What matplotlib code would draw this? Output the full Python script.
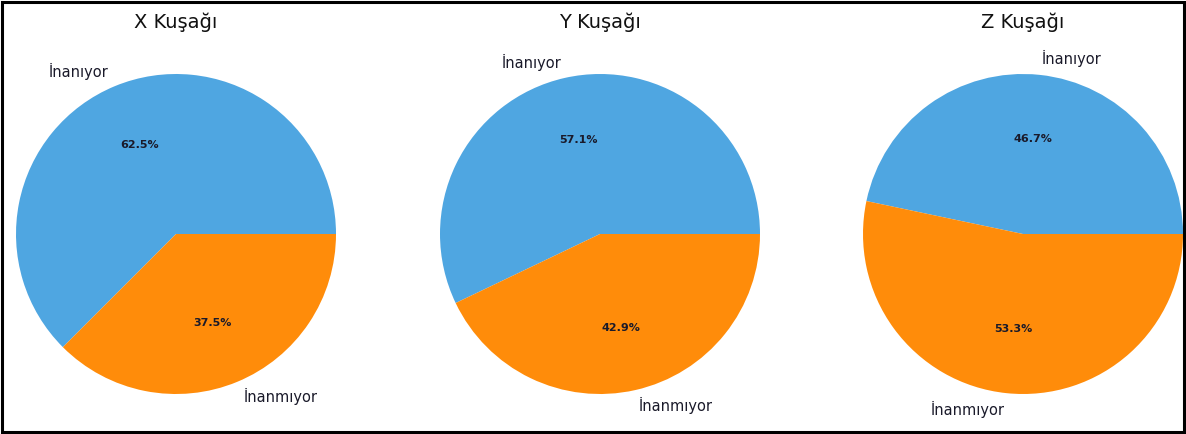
import matplotlib
matplotlib.use("Agg")
import matplotlib.pyplot as plt
from matplotlib.patches import Rectangle

groups = ["X Kuşağı", "Y Kuşağı", "Z Kuşağı"]
labels = ["İnanıyor", "İnanmıyor"]
x_values = [62.5, 37.5]
y_values = [57.1, 42.9]
z_values = [46.7, 53.3]
all_values = [x_values, y_values, z_values]
colors = ["#4fa6e1", "#ff8c0a"]

W, H = 1186, 434
fig = plt.figure(figsize=(W / 100, H / 100), dpi=100)
fig.patch.set_facecolor("white")

centers_px = [176, 600, 1023]
cy = 234
R = 160
half = 1.25 * R

for name, vals, cx in zip(groups, all_values, centers_px):
    ax = fig.add_axes([(cx - half) / W, (H - cy - half) / H, 2 * half / W, 2 * half / H])
    wedges, texts, autotexts = ax.pie(
        vals, labels=labels, colors=colors, autopct="%1.1f%%", startangle=0,
        pctdistance=0.6, labeldistance=1.1,
        wedgeprops=dict(edgecolor="none"),
        textprops=dict(fontsize=10.5, color="#1a1a2a"))
    for t in autotexts:
        t.set_fontsize(8)
        t.set_fontweight("bold")
        t.set_color("#1a1a2a")
    ax.set_xlim(-1.25, 1.25)
    ax.set_ylim(-1.25, 1.25)
    ax.set_aspect("equal")
    ax.axis("off")
    fig.text(cx / W, 1 - 22 / H, name, ha="center", va="center", fontsize=14, color="#111111")

fig.patches.append(Rectangle((2 / W, 2 / H), 1 - 4 / W, 1 - 4 / H, transform=fig.transFigure,
                             fill=False, edgecolor="black", linewidth=2.2, zorder=10))

fig.savefig("out.png", dpi=100)
